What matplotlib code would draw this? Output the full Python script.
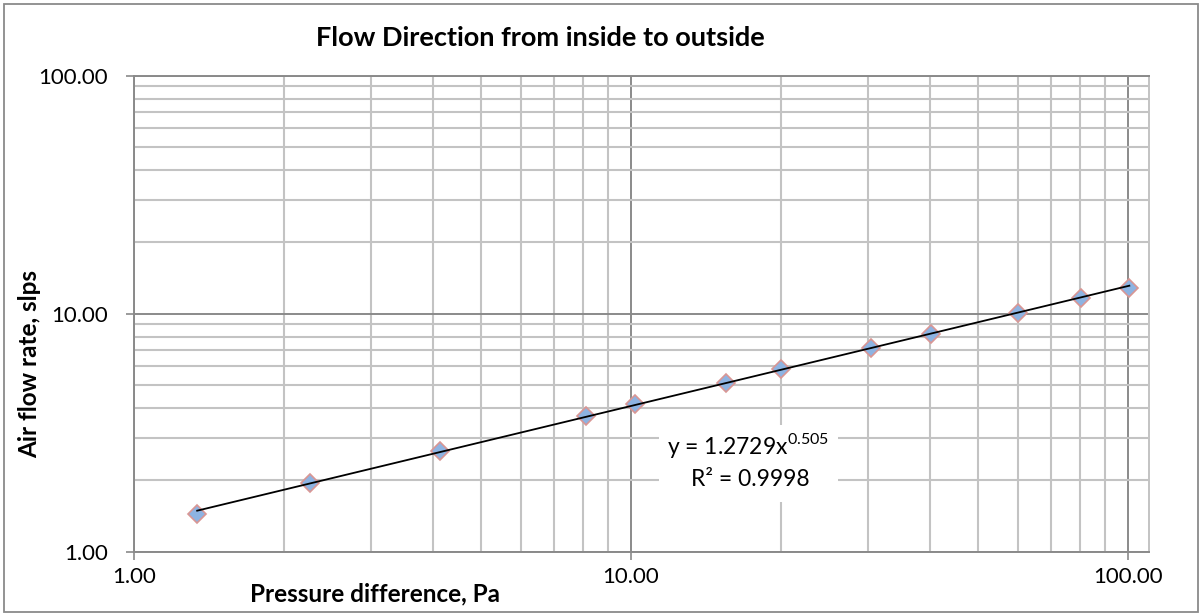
import numpy as np
import matplotlib
matplotlib.use("Agg")
import matplotlib.pyplot as plt
from matplotlib.ticker import FixedLocator, NullFormatter
from matplotlib.patches import Rectangle

# ---- data ----
pressure_pa = [1.34, 2.26, 4.13, 8.12, 10.19, 15.5, 20.0, 30.4, 40.1, 60.0, 80.3, 100.6]
flow_slps = [1.44, 1.94, 2.66, 3.71, 4.19, 5.13, 5.88, 7.20, 8.24, 10.06, 11.62, 12.85]
eq_text = "y = 1.2729x$^{\\mathrm{0.505}}$"
r2_text = "R² = 0.9998"
title = "Flow Direction from inside to outside"
xlabel = "Pressure difference, Pa"
ylabel = "Air flow rate, slps"
major_ticks = [1, 10, 100]
tick_labels = ["1.00", "10.00", "100.00"]

W, H = 1202, 616
plt.rcParams['font.family'] = ['Lato', 'DejaVu Sans']
plt.rcParams['mathtext.fontset'] = 'custom'
plt.rcParams['mathtext.rm'] = 'Lato'

fig = plt.figure(figsize=(W / 100, H / 100), dpi=100)
fig.patch.set_facecolor('white')

def px(x, y):
    return x / W, 1 - y / H

ax = fig.add_axes([134 / W, 1 - 551.7 / H, (1148.6 - 134) / W, (551.7 - 75.5) / H])
ax.set_xscale('log')
ax.set_yscale('log')
ax.set_xlim(1, 110)
ax.set_ylim(1, 100)

minor = [m * 10 ** e for e in range(0, 3) for m in range(2, 10)]
for axis in (ax.xaxis, ax.yaxis):
    axis.set_major_locator(FixedLocator(major_ticks))
    axis.set_minor_locator(FixedLocator(minor))
    axis.set_minor_formatter(NullFormatter())
ax.set_xticklabels(tick_labels)
ax.set_yticklabels(tick_labels)

ax.grid(which='minor', color='#c3c3c3', lw=1.5, zorder=0)
ax.grid(which='major', color='#8a8a8a', lw=1.4, zorder=0)
ax.set_axisbelow(True)

ax.tick_params(which='minor', length=0)
ax.tick_params(which='major', length=5.8, width=1.2, color='#8a8a8a',
               labelsize=16, labelcolor='black')
ax.tick_params(axis='x', which='major', pad=5)
ax.tick_params(axis='y', which='major', pad=13)

for side in ('left', 'bottom', 'top'):
    ax.spines[side].set_color('#8a8a8a')
    ax.spines[side].set_linewidth(1.4)
ax.spines['right'].set_color('#c3c3c3')
ax.spines['right'].set_linewidth(1.4)

# power-law trendline fitted to the data (least squares in log space)
b, log_a = np.polyfit(np.log(pressure_pa), np.log(flow_slps), 1)
xs = np.geomspace(min(pressure_pa), max(pressure_pa), 200)
ax.plot(xs, np.exp(log_a) * xs ** b, color='black', lw=1.3, zorder=4)

ax.plot(pressure_pa, flow_slps, linestyle='none', marker='D', markersize=9.5,
        markerfacecolor='#8db3e2', markeredgecolor='#d99694',
        markeredgewidth=1.2, zorder=3)

# label box for the trendline equation
x0, y0 = px(659, 502)
x1, y1 = px(838, 425)
fig.add_artist(Rectangle((x0, y0), x1 - x0, y1 - y0, transform=fig.transFigure,
                         facecolor='white', edgecolor='none', zorder=2))
fig.text(*px(748, 446), eq_text, ha='center', va='center', fontsize=16.5, zorder=5)
fig.text(*px(750, 480), r2_text, ha='center', va='center', fontsize=16.5, zorder=5)

fig.text(*px(540, 38), title, ha='center', va='center', fontsize=19.5, fontweight='bold')
fig.text(*px(375, 594), xlabel, ha='center', va='center', fontsize=17.5, fontweight='bold')
fig.text(*px(30, 364), ylabel, ha='center', va='center', fontsize=17.5, fontweight='bold',
         rotation=90)

fig.add_artist(Rectangle((4 / W, 4 / H), (W - 8) / W, (H - 8) / H,
                         transform=fig.transFigure, fill=False,
                         edgecolor='#8a8a8a', lw=1.3))

fig.savefig('out.png', dpi=100)
